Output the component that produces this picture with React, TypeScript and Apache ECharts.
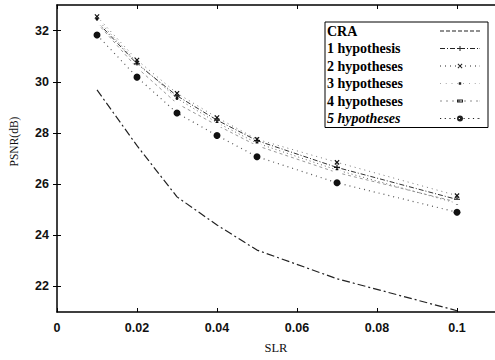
import React, { useEffect, useRef } from 'react';
import * as echarts from 'echarts';

const slr = [0.01, 0.02, 0.03, 0.04, 0.05, 0.07, 0.1];
const cra = [29.68, 27.5, 25.5, 24.4, 23.42, 22.3, 21.05];
const hyp1 = [32.35, 30.7, 29.45, 28.5, 27.7, 26.65, 25.4];
const hyp2 = [32.55, 30.85, 29.55, 28.6, 27.75, 26.85, 25.55];
const hyp3 = [32.45, 30.75, 29.35, 28.4, 27.6, 26.55, 25.25];
const hyp4 = [32.3, 30.55, 29.15, 28.3, 27.5, 26.45, 25.3];
const hyp5 = [31.83, 30.18, 28.78, 27.9, 27.07, 26.05, 24.9];
const seriesNames = ['CRA', '1 hypothesis', '2 hypotheses', '3 hypotheses', '4 hypotheses', '5 hypotheses'];
const xTicks = [0, 0.02, 0.04, 0.06, 0.08, 0.1];
const yTicks = [22, 24, 26, 28, 30, 32];

const plus = 'path://M4,0H6V4H10V6H6V10H4V6H0V4H4Z';

// legend icon helpers (40 x 14 box, centre line at y = 7)
const dashes = (pattern: number[], h: number) => {
  let x = 0;
  let i = 0;
  let s = '';
  while (x < 40) {
    const len = pattern[i % pattern.length];
    if (i % 2 === 0) {
      const e = Math.min(40, x + len);
      s += `M${x},${7 - h / 2}H${e}V${7 + h / 2}H${x}Z`;
    }
    x += len;
    i++;
  }
  s += `M39.6,${7 - h / 2}H40V${7 + h / 2}H39.6Z`;
  return s;
};
const mPlus = 'M17.5,6.5H22.5V7.5H17.5Z M19.5,4.5H20.5V9.5H19.5Z';
const mCross = 'M17.5,5.2L18.2,4.5L22.5,8.8L21.8,9.5Z M21.8,4.5L22.5,5.2L18.2,9.5L17.5,8.8Z';
const mDot = 'M18.8,5.8H21.2V8.2H18.8Z';
const mBox = 'M17,5.5H23V8.5H17Z M18,6.5V7.5H22V6.5Z';
const mBig = 'M17,7A3,3 0 1,0 23,7A3,3 0 1,0 17,7Z';
const legendIcons = [
  'path://' + dashes([4, 2], 0.8),
  'path://' + dashes([5, 2, 1, 2], 0.8) + mPlus,
  'path://' + dashes([1, 4], 0.8) + mCross,
  'path://' + dashes([0.8, 5], 0.6) + mDot,
  'path://' + dashes([2, 4], 0.6) + mBox,
  'path://' + dashes([1.2, 3.5], 0.9) + mBig,
];

export default function App() {
  const ref = useRef<HTMLDivElement>(null);
  useEffect(() => {
    const chart = echarts.init(ref.current!, null, { renderer: 'svg' });
    const pts = (ys: number[]) => slr.map((x, i) => [x, ys[i]]);
    const tickFont = { fontFamily: 'Liberation Sans', fontWeight: 'bold' as const, fontSize: 12.5, color: '#111' };
    const mk = (name: string, ys: number[], line: any, symbol: string, size: any, extra: any = {}) => ({
      type: 'line',
      name,
      data: pts(ys),
      symbol,
      symbolSize: size,
      showAllSymbol: true,
      lineStyle: line,
      itemStyle: { color: '#111', borderColor: '#111', borderWidth: 0 },
      emphasis: { disabled: true },
      ...extra,
    });
    chart.setOption({
      animation: false,
      backgroundColor: '#fff',
      grid: { left: 55, right: 0, top: 5, bottom: 48 },
      xAxis: [
        {
          type: 'value', min: 0, max: 0.1095, position: 'bottom',
          axisLine: { lineStyle: { color: '#000', width: 1.5 } },
          axisTick: { inside: true, length: 4, customValues: xTicks, lineStyle: { color: '#000' } },
          axisLabel: { customValues: xTicks, formatter: (v: number) => String(v), margin: 9, ...tickFont },
          splitLine: { show: false },
          name: 'SLR', nameLocation: 'middle', nameGap: 29,
          nameTextStyle: { fontFamily: 'Liberation Serif', fontSize: 12.5, color: '#111' },
        },
        {
          type: 'value', min: 0, max: 0.1095, position: 'top',
          axisLine: { lineStyle: { color: '#000', width: 1.5 } },
          axisTick: { inside: true, length: 4, customValues: xTicks, lineStyle: { color: '#000' } },
          axisLabel: { show: false },
          splitLine: { show: false },
        },
      ],
      yAxis: [
        {
          type: 'value', min: 21, max: 33, position: 'left',
          axisLine: { show: true, lineStyle: { color: '#000', width: 1.5 } },
          axisTick: { show: true, inside: true, length: 4, customValues: yTicks, lineStyle: { color: '#000' } },
          axisLabel: { customValues: yTicks, margin: 8, ...tickFont },
          splitLine: { show: false },
          name: 'PSNR(dB)', nameLocation: 'middle', nameGap: 37, nameRotate: 90,
          nameTextStyle: { fontFamily: 'Liberation Serif', fontSize: 11.5, color: '#111', padding: [0, 0, 0, 34] },
        },
        {
          type: 'value', min: 21, max: 33, position: 'right',
          axisLine: { show: false },
          axisTick: { show: true, inside: true, length: 4, customValues: yTicks, lineStyle: { color: '#000' } },
          axisLabel: { show: false },
          splitLine: { show: false },
        },
      ],
      legend: {
        orient: 'vertical', left: 325, top: 22,
        padding: [2, 8, 2, 2],
        itemGap: 3.5, itemWidth: 40, itemHeight: 14,
        align: 'right',
        borderColor: '#000', borderWidth: 1, backgroundColor: '#fff',
        itemStyle: { borderWidth: 0 },
        data: seriesNames.map((n, i) => ({ name: n, icon: legendIcons[i], itemStyle: { color: '#222', borderWidth: 0 } })),
        formatter: (n: string) => (n === '5 hypotheses' ? '{i|' + n + '}' : '{a|' + n + '}'),
        textStyle: {
          color: '#000',
          rich: {
            a: { width: 108, align: 'left', fontFamily: 'Liberation Serif', fontWeight: 'bold', fontSize: 14, lineHeight: 14, color: '#000' },
            i: { width: 108, align: 'left', fontFamily: 'Liberation Serif', fontWeight: 'bold', fontStyle: 'italic', fontSize: 14, lineHeight: 14, color: '#000' },
          },
        },
      },
      series: [
        mk('CRA', cra, { color: '#222', width: 1.2, type: [8, 3, 2, 3] }, 'none', 0),
        mk('1 hypothesis', hyp1, { color: '#333', width: 1, type: [5, 2, 1, 2] }, plus, 6),
        mk('2 hypotheses', hyp2, { color: '#777', width: 1, type: [1, 4] }, plus, 6, { symbolRotate: 45 }),
        mk('3 hypotheses', hyp3, { color: '#666', width: 1, type: [1, 3] }, 'circle', 3),
        mk('4 hypotheses', hyp4, { color: '#999', width: 1, type: [3, 3] }, 'emptyRect', [6, 3], { itemStyle: { color: '#fff', borderColor: '#333', borderWidth: 1 } }),
        mk('5 hypotheses', hyp5, { color: '#555', width: 1.2, type: [1, 4] }, 'circle', 7),
      ],
    });
    return () => chart.dispose();
  }, []);
  return <div ref={ref} style={{ position: 'fixed', left: 0, top: 0, width: 495, height: 360 }} />;
}
